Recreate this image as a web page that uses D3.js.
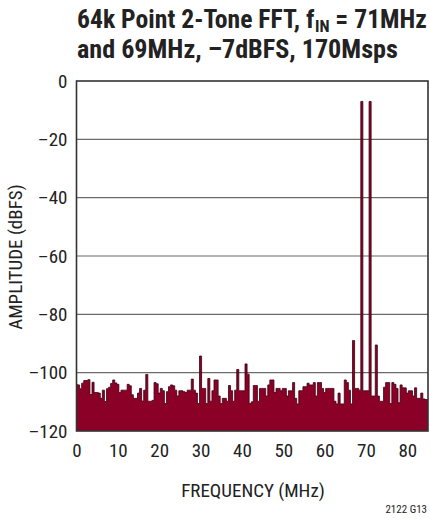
<!DOCTYPE html>
<html><head><meta charset="utf-8">
<script src="https://cdn.jsdelivr.net/npm/d3@7"></script>
<style>body{margin:0;background:#fff}svg{display:block}
text{font-family:"Liberation Sans Narrow","Arial Narrow","Roboto Condensed","Liberation Sans",sans-serif;fill:#222}</style>
</head><body><svg id="c" width="430" height="519"></svg>
<script>
const titleLines = ["64k Point 2-Tone FFT, f", "IN", "\u00a0= 71MHz", "and 69MHz, \u20137dBFS, 170Msps"];
const xTicks = [0,10,20,30,40,50,60,70,80];
const yTicks = [0,-20,-40,-60,-80,-100,-120];
const xLabel = "FREQUENCY (MHz)";
const yLabel = "AMPLITUDE (dBFS)";
const note = "2122 G13";
const binWidthMHz = 0.5;
const amplitudes = [
-104,-104.2,-105.5,-103.6,-102.7,-102.7,-102.4,-107.5,-103.3,-106.8,
-106.8,-107,-108.8,-106,-109.9,-105.5,-105,-103.7,-102.5,-103.5,
-104,-106.8,-106,-106,-106,-104,-104.5,-107.6,-108.8,-108.8,
-107,-105.4,-109.7,-106,-100.6,-109.8,-109.8,-109.5,-103.4,-103.8,
-107,-105.4,-106.2,-110.6,-106.5,-104.8,-104.2,-104.5,-106,-108,
-106.2,-106.2,-106.5,-106.8,-106,-106,-102.2,-106,-107,-110.6,
-94.3,-105.4,-105.4,-110.6,-102,-109.8,-106.2,-102.5,-102.5,-108,
-110.6,-108.8,-108.8,-109.8,-104.4,-106.2,-109.8,-106,-98.9,-106.2,
-106.2,-106.2,-97,-100.5,-110.6,-110,-104.4,-104.4,-109.8,-105.4,
-105.4,-105.4,-108,-104.2,-102.5,-102.5,-106.8,-105.4,-105.4,-106.2,
-105.4,-105.4,-108,-106.2,-106.2,-103.4,-108.8,-110.7,-106.2,-106.2,
-104.8,-104.8,-103.6,-104.2,-104.2,-103.4,-108,-103.4,-103.4,-105.4,
-106.8,-105.4,-105.4,-105.4,-105.4,-109.8,-110.7,-107,-110.7,-110.7,
-102.5,-103.4,-106,-110.7,-89,-105.4,-105.4,-106,-7,-106.2,
-106.2,-106.2,-7,-108,-108,-90.5,-108,-109.8,-109.8,-105,
-103.4,-103.4,-110.6,-103.4,-104,-105.4,-110.3,-104.2,-105.2,-105.2,
-107,-106.2,-106.2,-108,-105.2,-108.8,-108.8,-107,-109,-109.2,-109.2];

const svg = d3.select("#c");
const L=76.5, R=428, T=81, B=431;
const x = d3.scaleLinear().domain([0,85]).range([L,R]);
const y = d3.scaleLinear().domain([-120,0]).range([B,T]);

// title line 1 built from separate pieces, then fitted to width
const tg = svg.append("g");
const p1 = tg.append("text").attr("x",0).attr("y",0).attr("font-size",25).attr("font-weight","bold").text(titleLines[0]);
const w1 = p1.node().getComputedTextLength();
const p2 = tg.append("text").attr("x",w1+0.5).attr("y",4).attr("font-size",16).attr("font-weight","bold").text(titleLines[1]);
const w2 = p2.node().getComputedTextLength();
const p3 = tg.append("text").attr("x",w1+w2+0.5).attr("y",0).attr("font-size",25).attr("font-weight","bold").text(titleLines[2]);
const w3 = p3.node().getComputedTextLength();
const sx = 350/(w1+w2+w3+0.5);
tg.attr("transform",`translate(77,28) scale(${sx},1)`);
const l2 = svg.append("g");
const q = l2.append("text").attr("x",0).attr("y",0).attr("font-size",25).attr("font-weight","bold").text(titleLines[3]);
l2.attr("transform",`translate(77,58) scale(${321/q.node().getComputedTextLength()},1)`);

// grid
svg.append("g").selectAll("line").data(yTicks.filter(d=>d>-120&&d<0)).join("line")
  .attr("x1",L).attr("x2",R).attr("y1",d=>y(d)).attr("y2",d=>y(d))
  .attr("stroke","#6b6b6b").attr("stroke-width",1.2);

// data
const pts = amplitudes.map((a,i)=>[i*binWidthMHz,a]);
svg.append("defs").append("clipPath").attr("id","pc").append("rect")
  .attr("x",L).attr("y",T).attr("width",R-L).attr("height",B-T);
const area = d3.area().x(d=>x(d[0])).y0(B).y1(d=>y(d[1])).curve(d3.curveStep);
const line = d3.line().x(d=>x(d[0])).y(d=>y(d[1])).curve(d3.curveStep);
const g = svg.append("g").attr("clip-path","url(#pc)");
g.append("path").datum(pts).attr("d",area).attr("fill","#8b0027");
g.append("path").datum(pts).attr("d",line).attr("fill","none").attr("stroke","#3a0012").attr("stroke-width",0.8);

// border
svg.append("rect").attr("x",L).attr("y",T).attr("width",R-L).attr("height",B-T)
  .attr("fill","none").attr("stroke","#333").attr("stroke-width",1.6);

// axes labels
const yAxis = d3.axisLeft(y).tickValues(yTicks).tickSize(0).tickPadding(9)
  .tickFormat(d=>d===0?"0":"\u2013"+Math.abs(d));
const ya = svg.append("g").attr("transform",`translate(${L},0)`).call(yAxis);
ya.select(".domain").remove();
ya.selectAll("text").attr("font-size",19).attr("font-family",null).attr("fill","#222");
const xAxis = d3.axisBottom(x).tickValues(xTicks).tickSize(0).tickPadding(13);
const xa = svg.append("g").attr("transform",`translate(0,${B})`).call(xAxis);
xa.select(".domain").remove();
xa.selectAll("text").attr("font-size",19).attr("font-family",null).attr("fill","#222");

svg.append("text").attr("x",253).attr("y",497).attr("text-anchor","middle").attr("font-size",19).text(xLabel);
svg.append("text").attr("transform","translate(22,257) rotate(-90)").attr("text-anchor","middle").attr("font-size",19).text(yLabel);
svg.append("text").attr("x",427).attr("y",513).attr("text-anchor","end").attr("font-size",11).text(note);
</script></body></html>
